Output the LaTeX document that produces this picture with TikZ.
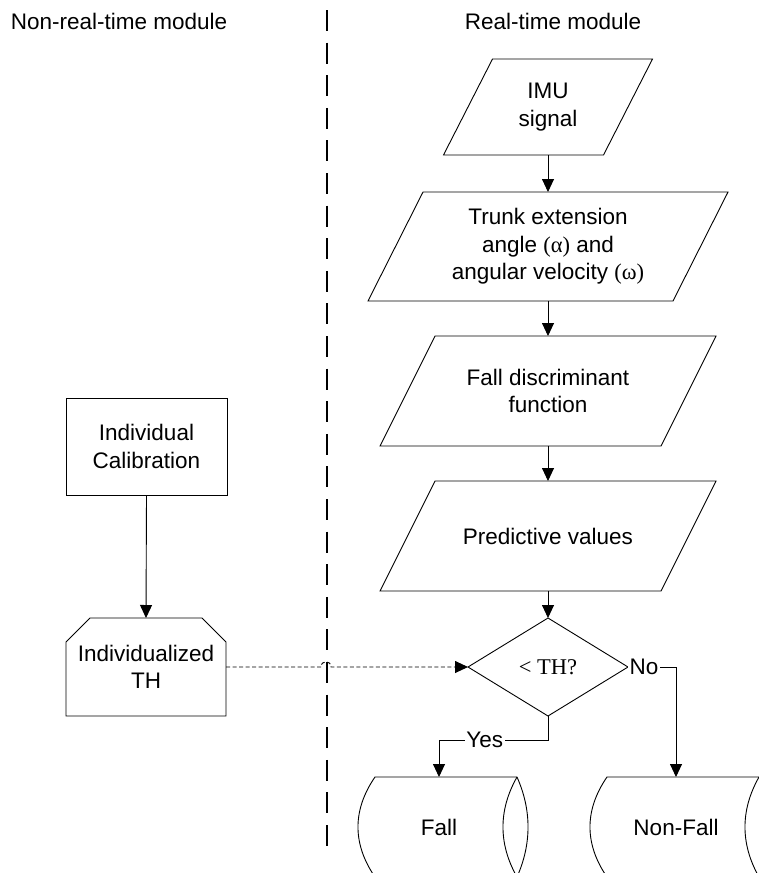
\documentclass[tikz,border=0pt]{standalone}
\usepackage{fontspec}
\setmainfont{Liberation Sans}
\newfontfamily\timesfont{Liberation Serif}
\usetikzlibrary{arrows.meta,calc}

% parallelogram outline around a (borderless) node: #1 node name, #2 slant
\newcommand\paraframe[2]{%
  \draw[outline] ($(#1.north west)+(#2/2,0)$) -- ($(#1.north east)+(#2/2,0)$)
    -- ($(#1.south east)-(#2/2,0)$) -- ($(#1.south west)-(#2/2,0)$) -- cycle;}

% horizontal drum (direct-access storage) outline around a node
\newcommand\drumframe[1]{%
  \coordinate (#1-tr) at ($(#1.north east)+(14,0)$);
  \coordinate (#1-br) at ($(#1.south east)+(14,0)$);
  \draw[outline] (#1.north west) -- (#1-tr)
    .. controls +(14.7,33) and +(14.7,-33) .. (#1-br)
    -- (#1.south west)
    .. controls +(-22.7,-33) and +(-22.7,33) .. (#1.north west) -- cycle;
  \draw[outline] (#1-tr) .. controls +(-18.7,33) and +(-18.7,-33) .. (#1-br);}

\begin{document}
\begin{tikzpicture}[x=1pt,y=-1pt,
  every node/.style={font=\fontsize{22.5}{27.5}\selectfont, align=center, inner sep=0pt, outer sep=0pt},
  outline/.style={draw=black, line width=0.9pt},
  flow/.style={draw=black, line width=0.9pt, -{Triangle[length=13pt,width=12pt]}},
  link/.style={flow, dash pattern=on 4pt off 2.5pt},
  divider/.style={draw=black, line width=2.6pt, dash pattern=on 21pt off 11.6pt},
  tag/.style={fill=white, inner xsep=1.5pt, inner ysep=1pt}
]
\useasboundingbox (0,0) rectangle (759,873);

% module headings and divider
\node (hdrL) at (119,21) {Non-real-time module};
\node (hdrR) at (553,21) {Real-time module};
\coordinate (divtop) at (327,10);
\coordinate (divbot) at (327,846);
\draw[divider] (divtop) -- (divbot);

% real-time chain
\node[minimum width=160pt, minimum height=96pt] (imu) at (548,107) {IMU\\signal};
\paraframe{imu}{49}
\node[minimum width=305pt, minimum height=109pt] (trunk) at (548,246.5)
  {Trunk extension\\angle {\timesfont(α)} and\\angular velocity {\timesfont(ω)}};
\paraframe{trunk}{55}
\node[minimum width=281pt, minimum height=110pt] (disc) at (548,391)
  {Fall discriminant\\function};
\paraframe{disc}{55}
\node[minimum width=281pt, minimum height=110pt] (pred) at (548,536)
  {Predictive values};
\paraframe{pred}{55}

\node[minimum width=160pt, minimum height=98pt] (dia) at (548,667) {\timesfont < TH?};
\draw[outline] (dia.north) -- (dia.east) -- (dia.south) -- (dia.west) -- cycle;

\node[minimum width=128pt, minimum height=100pt] (fall) at (439,827) {Fall};
\drumframe{fall}
\node[minimum width=138pt, minimum height=100pt] (nonfall) at (676,827) {Non-Fall};
\drumframe{nonfall}

% non-real-time side
\node[outline, minimum width=161pt, minimum height=97pt] (calib) at (146.5,446.5)
  {Individual\\Calibration};
\node[minimum width=160pt, minimum height=98pt] (th) at (146,667) {Individualized\\TH};
\draw[outline] (th.south west) -- ($(th.north west)+(0,24)$) -- ($(th.north west)+(24,0)$)
  -- ($(th.north east)+(-24,0)$) -- ($(th.north east)+(0,24)$) -- (th.south east) -- cycle;

% connectors
\draw[flow] (imu.south) -- (trunk.north);
\draw[flow] (trunk.south) -- (disc.north);
\draw[flow] (disc.south) -- (pred.north);
\draw[flow] (pred.south) -- (dia.north);
\draw[flow] (calib.south) -- (th.north);

\coordinate (yesrow) at (0,740);
\draw[flow] (dia.south) -- (dia.south |- yesrow) -| node[pos=0.29, tag] {Yes} (fall.north);
\draw[flow] (dia.east) -| node[pos=0, anchor=west, tag] {No} (nonfall.north);

% dashed threshold link, hopping over the divider
\coordinate (hopL) at (321,667);
\coordinate (hopR) at (331,667);
\draw[link] (th.east) -- (hopL) .. controls +(0,-7) and +(0,-7) .. (hopR) -- (dia.west);
\end{tikzpicture}
\end{document}
